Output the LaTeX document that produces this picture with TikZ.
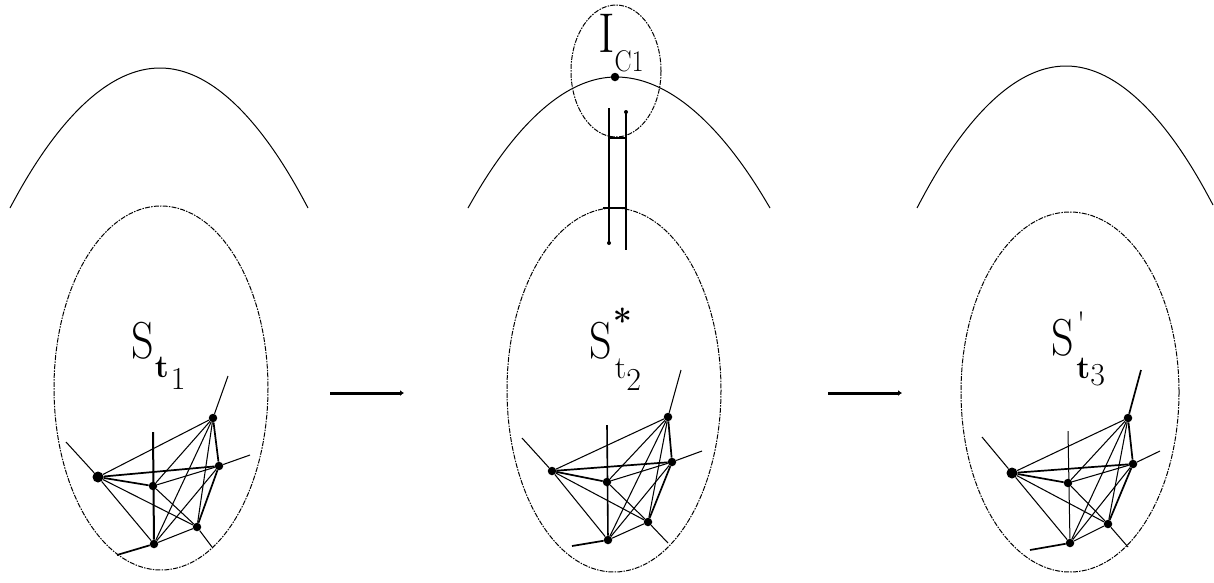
\documentclass[tikz,border=0pt]{standalone}
\usetikzlibrary{arrows.meta}
\tikzset{
  dot/.style={circle,fill=black,inner sep=0pt,minimum size=8.5pt},
  bigdot/.style={circle,fill=black,inner sep=0pt,minimum size=11pt},
  smalldot/.style={circle,fill=black,inner sep=0pt,minimum size=4pt},
  region/.style={line width=1pt,dash pattern=on 5pt off 1.2pt on 1.5pt off 1.2pt},
  horizon/.style={line width=1pt},
  edge/.style={line width=1.05pt},
  thickedge/.style={line width=1.7pt},
  stepper/.style={line width=3pt,-{Latex[length=4pt,width=6pt]}},
  lab/.style={inner sep=0pt,anchor=base west}
}
\begin{document}
\begin{tikzpicture}[x=1pt,y=-1pt]
\useasboundingbox (0,0) rectangle (1214,582);
\fill[white] (0,0) rectangle (1214,582);

% ---------- horizon arcs ----------
\coordinate (h1a) at (10,208);  \coordinate (h1b) at (160,68);  \coordinate (h1c) at (308,208);
\coordinate (h2a) at (468,208); \coordinate (h2b) at (616,77);  \coordinate (h2c) at (770,208);
\coordinate (h3a) at (917,208); \coordinate (h3b) at (1066,66); \coordinate (h3c) at (1213,205);
\draw[horizon] (h1a) parabola bend (h1b) (h1c);
\draw[horizon] (h2a) parabola bend (h2b) (h2c);
\draw[horizon] (h3a) parabola bend (h3b) (h3c);

% ---------- region ellipses ----------
\draw[region] (161,388) ellipse [x radius=107, y radius=182];
\draw[region] (614,390) ellipse [x radius=107, y radius=182];
\draw[region] (1070,392) ellipse [x radius=109, y radius=180];
\draw[region] (616,71) ellipse [x radius=45, y radius=66];

% ---------- labels ----------
\node[lab] (L1) at (131,358) {\scalebox{0.85}[1]{\fontsize{52}{52}\selectfont S}\kern1pt\raisebox{-19pt}{\fontsize{32}{32}\selectfont\textbf{t}\kern2pt\raisebox{-12pt}{1}}};
\node[lab] (L2) at (589,358) {\scalebox{0.85}[1]{\fontsize{52}{52}\selectfont S}\kern1pt\raisebox{25pt}{\fontsize{34}{34}\selectfont\textbf{*}}\kern-17pt\raisebox{-20pt}{\fontsize{32}{32}\selectfont t\raisebox{-12pt}{2}}};
\node[lab] (L3) at (1051,355) {\scalebox{0.85}[1]{\fontsize{52}{52}\selectfont S}\kern3pt\raisebox{20pt}{\fontsize{34}{34}\selectfont\textquotesingle}\kern-9pt\raisebox{-23pt}{\fontsize{32}{32}\selectfont\textbf{t}\raisebox{-7pt}{3}}};
\node[lab] (L4) at (598,52) {\scalebox{0.9}[1]{\fontsize{56}{56}\selectfont I}\raisebox{-19pt}{\fontsize{30}{30}\selectfont\scalebox{0.85}[1]{C1}}};

% ---------- interface in panel 2 ----------
\node[dot] (ic) at (615,77) {};
\coordinate (u1) at (609,108); \coordinate (u2) at (609,243);
\coordinate (v1) at (626,112); \coordinate (v2) at (626,250);
\coordinate (r1a) at (609,138); \coordinate (r1b) at (626,138);
\coordinate (r2a) at (603,208); \coordinate (r2b) at (627,208);
\draw[line width=1.1pt] (u1) -- (u2);
\draw[line width=1.4pt] (v1) -- (v2);
\draw[line width=1.2pt] (r1a) -- (r1b);
\draw[line width=1.5pt] (r2a) -- (r2b);
\node[smalldot] (ue) at (u2) {};
\node[smalldot] (ve) at (v1) {};

% ---------- step arrows ----------
\coordinate (s1a) at (330,393); \coordinate (s1b) at (404,393);
\coordinate (s2a) at (828,393); \coordinate (s2b) at (902,393);
\draw[stepper] (s1a) -- (s1b);
\draw[stepper] (s2a) -- (s2b);

% ---------- graph, panel 1 ----------
\node[dot] (aA) at (213,418) {};
\node[bigdot] (aB) at (98,477) {};
\node[dot] (aC) at (153,486) {};
\node[dot] (aD) at (219,466) {};
\node[dot] (aE) at (197,527) {};
\node[dot] (aF) at (154,544) {};
\coordinate (aA1) at (228,376); \coordinate (aB1) at (66,442);
\coordinate (aD1) at (250,455); \coordinate (aF1) at (117,555);
\coordinate (aE1) at (212,547); \coordinate (aC1) at (153,432);
\foreach \u/\v in {aA/aB,aA/aC,aA/aE,aA/aF,aB/aE,aB/aF,aC/aD,aC/aE,aD/aF,aE/aF}
  \draw[edge] (\u) -- (\v);
\foreach \u/\v in {aA/aD,aB/aC,aB/aD,aD/aE}
  \draw[thickedge] (\u) -- (\v);
\draw[line width=2pt] (aC1) -- (aF);
\draw[edge] (aA) -- (aA1);
\draw[edge] (aB) -- (aB1);
\draw[edge] (aD) -- (aD1);
\draw[thickedge] (aF) -- (aF1);
\draw[edge] (aE) -- (aE1);

% ---------- graph, panel 2 ----------
\node[dot] (bA) at (668,417) {};
\node[dot] (bB) at (552,471) {};
\node[dot] (bC) at (607,482) {};
\node[dot] (bD) at (672,462) {};
\node[dot] (bE) at (648,522) {};
\node[dot] (bF) at (608,540) {};
\coordinate (bA1) at (681,370); \coordinate (bB1) at (522,438);
\coordinate (bD1) at (702,451); \coordinate (bF1) at (572,546);
\coordinate (bE1) at (668,543); \coordinate (bC1) at (607,425);
\foreach \u/\v in {bA/bB,bA/bC,bA/bE,bA/bF,bB/bE,bB/bF,bC/bD,bC/bE,bD/bF,bE/bF}
  \draw[edge] (\u) -- (\v);
\foreach \u/\v in {bA/bD,bB/bC,bB/bD,bD/bE}
  \draw[thickedge] (\u) -- (\v);
\draw[line width=1.6pt] (bC1) -- (bF);
\draw[edge] (bA) -- (bA1);
\draw[edge] (bB) -- (bB1);
\draw[edge] (bD) -- (bD1);
\draw[thickedge] (bF) -- (bF1);
\draw[edge] (bE) -- (bE1);

% ---------- graph, panel 3 ----------
\node[dot] (cA) at (1128,418) {};
\node[bigdot] (cB) at (1012,473) {};
\node[dot] (cC) at (1068,483) {};
\node[dot] (cD) at (1133,464) {};
\node[dot] (cE) at (1108,524) {};
\node[dot] (cF) at (1070,543) {};
\coordinate (cA1) at (1141,370); \coordinate (cB1) at (982,437);
\coordinate (cD1) at (1160,451); \coordinate (cF1) at (1030,550);
\coordinate (cE1) at (1128,547); \coordinate (cC1) at (1068,431);
\foreach \u/\v in {cA/cB,cA/cC,cA/cE,cA/cF,cB/cE,cB/cF,cC/cD,cC/cE,cD/cF,cE/cF}
  \draw[edge] (\u) -- (\v);
\foreach \u/\v in {cA/cD,cB/cC,cB/cD,cD/cE}
  \draw[thickedge] (\u) -- (\v);
\draw[line width=1pt] (cC1) -- (cF);
\draw[thickedge] (cA) -- (cA1);
\draw[edge] (cB) -- (cB1);
\draw[edge] (cD) -- (cD1);
\draw[thickedge] (cF) -- (cF1);
\draw[edge] (cE) -- (cE1);
\end{tikzpicture}
\end{document}
